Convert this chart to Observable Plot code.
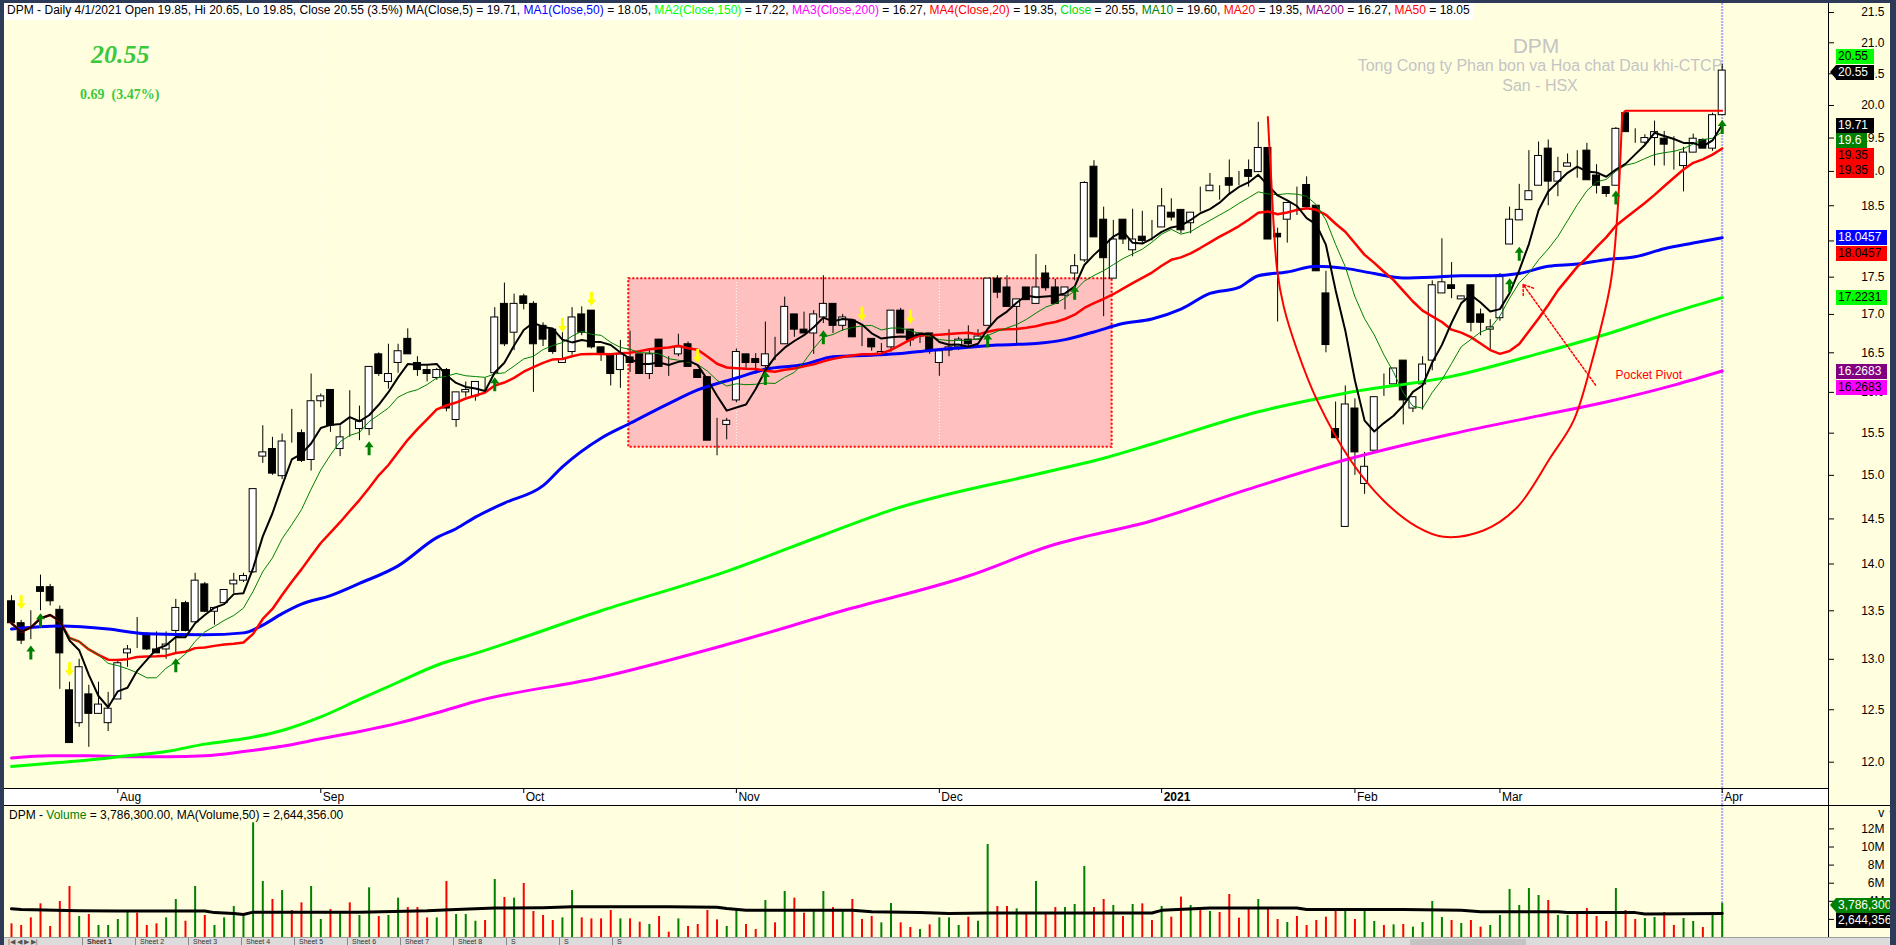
<!DOCTYPE html>
<html><head><meta charset="utf-8">
<script src="https://cdn.jsdelivr.net/npm/d3@7"></script>
<script src="https://cdn.jsdelivr.net/npm/@observablehq/plot@0.6"></script>
<style>
html,body{margin:0;padding:0}
body{background:#2E3B58;width:1896px;height:945px;overflow:hidden;font-family:"Liberation Sans",Arial,sans-serif}
#root{position:relative;width:1896px;height:945px;overflow:hidden}
#root>*{position:absolute}
.lbl{font:12px "Liberation Sans",Arial,sans-serif;height:15px;line-height:15px;padding:0 6px 0 2px;white-space:nowrap}
</style></head><body><div id="root"></div><script>
// ---------------- DATA ----------------
const months = ["Aug","Sep","Oct","Nov","Dec","2021","Feb","Mar","Apr"];
const monthStart = [11,32,53,75,96,119,139,154,177];

const open = [13.60,13.37,13.42,13.75,13.75,13.51,12.69,12.37,12.65,12.46,
12.37,12.60,13.06,13.30,13.26,13.10,13.10,13.29,13.58,13.38,
13.78,13.49,13.58,13.78,13.82,13.91,15.22,15.31,14.99,15.40,
15.50,15.18,15.89,16.03,15.31,15.59,15.55,15.55,16.48,16.13,
16.37,16.68,16.37,16.28,16.18,16.28,15.66,16.00,15.95,16.13,
16.24,17.14,16.76,17.24,17.14,16.85,16.80,16.37,16.51,17.00,
17.05,16.57,16.48,16.28,16.44,16.48,16.23,16.67,16.32,16.48,
16.61,16.28,16.19,15.31,15.60,15.90,16.48,16.42,16.33,16.51,
16.61,17.00,16.80,16.75,16.96,17.14,16.85,16.92,16.68,16.68,
16.48,16.57,17.05,16.80,16.71,16.75,16.37,16.53,16.57,16.67,
16.67,16.85,17.48,17.36,17.10,17.36,17.14,17.55,17.36,17.25,
17.55,17.73,19.07,18.30,17.48,18.30,17.87,18.06,18.11,18.19,
18.40,18.44,18.25,18.59,18.71,18.79,18.90,18.90,19.02,18.99,
19.35,18.10,18.30,18.52,18.80,18.50,17.28,15.55,14.41,15.80,
14.90,15.29,15.95,16.10,16.40,15.80,16.10,16.40,17.28,17.39,
17.20,17.39,17.00,16.80,16.95,17.95,18.29,18.58,18.79,19.34,
18.85,19.07,19.16,19.31,18.94,18.77,18.79,19.88,19.58,19.43,
19.50,19.49,19.36,19.08,19.28,19.47,19.34,19.85];
const high = [13.66,13.40,13.50,13.88,13.78,13.55,12.77,13.00,12.74,12.77,
12.67,13.00,13.14,13.43,13.27,13.28,13.28,13.62,13.60,13.90,
13.80,13.53,13.72,13.90,13.90,14.84,15.59,15.45,15.49,15.79,
15.54,16.23,15.98,16.03,15.59,16.02,15.83,16.32,16.50,16.61,
16.61,16.81,16.45,16.33,16.30,16.30,16.00,16.13,16.13,16.18,
17.09,17.42,17.27,17.27,17.17,16.89,16.80,16.76,17.09,17.10,
17.05,16.57,16.48,16.66,16.78,16.48,16.55,16.67,16.45,16.74,
16.64,16.28,16.19,15.68,15.68,16.55,16.48,16.49,16.90,16.70,
17.23,17.00,17.03,17.05,17.52,17.14,17.00,16.92,16.85,16.68,
16.62,17.05,17.08,16.80,16.75,16.75,16.55,16.80,16.70,16.85,
16.80,17.48,17.52,17.52,17.20,17.36,17.81,17.66,17.47,17.36,
17.81,18.85,19.16,18.48,18.29,18.30,18.45,18.42,18.29,18.75,
18.60,18.44,18.40,18.77,18.97,18.79,19.17,19.00,19.17,19.74,
19.35,18.18,18.54,18.77,18.92,18.50,17.58,15.88,16.08,15.92,
15.27,15.94,16.23,16.30,16.40,15.94,16.45,17.45,18.03,17.70,
17.24,17.39,17.07,16.93,17.55,18.48,18.81,19.31,19.44,19.47,
19.21,19.26,19.31,19.42,19.10,18.77,19.66,19.90,19.64,19.55,
19.76,19.60,19.52,19.36,19.56,19.49,19.88,20.65];
const low = [13.35,13.15,13.20,13.50,13.55,12.70,12.18,12.33,12.14,12.46,
12.29,12.60,12.92,13.11,13.09,13.06,13.00,13.06,13.28,13.38,
13.48,13.35,13.58,13.68,13.80,13.90,15.14,15.00,14.95,15.38,
15.15,15.05,15.81,15.51,15.22,15.45,15.41,15.47,16.20,16.04,
16.24,16.48,16.20,16.13,16.15,15.76,15.57,15.94,15.89,16.02,
16.24,16.58,16.53,17.06,16.00,16.58,16.48,16.37,16.47,16.72,
16.55,16.39,16.08,16.05,16.25,16.23,16.16,16.32,16.20,16.45,
16.32,16.18,15.41,15.23,15.42,15.87,16.30,16.23,16.25,16.40,
16.61,16.70,16.75,16.48,16.88,16.75,16.78,16.70,16.58,16.52,
16.45,16.51,16.75,16.58,16.62,16.48,16.20,16.45,16.53,16.58,
16.67,16.85,17.21,17.10,16.59,17.19,17.14,17.31,17.14,17.06,
17.45,17.70,18.05,16.97,17.48,17.95,17.78,17.96,18.00,18.19,
18.28,18.10,18.10,18.41,18.71,18.58,18.65,18.79,18.77,18.99,
18.02,16.90,17.97,18.36,18.48,17.58,16.50,15.44,14.41,15.00,
14.78,15.29,15.95,16.10,15.60,15.75,15.78,16.27,17.28,17.21,
17.20,16.77,16.72,16.54,16.91,17.95,18.29,18.58,18.79,18.50,
18.63,19.07,18.90,18.87,18.67,18.62,18.79,19.59,19.42,19.40,
19.08,19.08,19.02,18.70,19.28,19.34,19.30,19.85];
const close = [13.37,13.19,13.42,13.70,13.60,13.06,12.18,12.92,12.46,12.55,
12.51,12.96,13.10,13.30,13.10,13.06,13.15,13.53,13.29,13.82,
13.49,13.53,13.72,13.82,13.87,14.84,15.27,15.02,15.40,15.40,
15.17,15.89,15.95,15.59,15.45,15.59,15.64,16.32,16.23,16.23,
16.52,16.48,16.28,16.23,16.28,15.80,16.00,16.03,16.13,16.13,
16.96,16.61,17.14,17.14,16.61,16.67,16.51,16.42,16.96,16.76,
16.57,16.48,16.23,16.48,16.37,16.23,16.48,16.32,16.32,16.57,
16.32,16.18,15.41,15.31,15.65,16.51,16.37,16.37,16.48,16.51,
17.10,16.80,16.75,17.00,17.14,16.85,16.96,16.70,16.68,16.57,
16.51,17.05,16.75,16.66,16.75,16.52,16.52,16.57,16.67,16.61,
16.71,17.48,17.29,17.10,17.20,17.19,17.36,17.35,17.14,17.36,
17.65,18.83,18.05,17.76,18.02,18.02,18.02,18.00,18.11,18.49,
18.33,18.15,18.40,18.59,18.79,18.79,18.79,18.90,18.92,19.35,
18.02,18.05,18.54,18.52,18.48,17.58,16.60,15.44,15.85,15.27,
15.10,15.94,15.95,16.30,15.90,15.94,16.35,17.39,17.43,17.34,
17.24,16.89,16.89,16.83,17.50,18.30,18.44,18.71,19.23,18.85,
18.99,19.12,19.16,18.87,18.79,18.67,19.64,19.59,19.58,19.50,
19.59,19.40,19.36,19.28,19.49,19.34,19.85,20.55];
// volume in millions of shares
const volume = [1.51,1.33,2.17,3.72,1.22,3.98,5.64,2.32,2.54,1.33,
1.33,1.99,2.98,2.69,1.33,1.51,2.17,4.20,1.80,5.64,
2.43,1.33,2.17,3.43,2.32,12.67,6.19,4.20,5.19,2.98,
3.83,5.64,1.99,3.09,2.69,3.83,2.43,5.49,2.32,2.43,
4.35,3.31,3.31,2.17,2.17,6.19,2.54,2.54,1.80,1.88,
6.41,4.42,4.35,5.97,2.87,2.43,1.88,2.17,5.19,2.17,
2.06,2.06,2.98,2.06,2.06,1.69,1.44,2.32,0.59,2.06,
1.22,1.44,2.98,1.95,1.22,2.98,1.44,0.88,4.09,1.62,
5.08,4.35,2.69,2.87,5.08,3.31,2.87,4.20,1.99,2.32,
1.62,3.76,1.62,1.10,0.88,1.40,2.17,2.17,1.33,2.25,
1.80,10.28,3.43,3.43,3.17,2.69,6.19,2.69,3.31,3.31,
3.65,7.85,3.31,4.20,3.54,2.32,3.65,3.72,1.88,3.43,
2.25,4.46,3.54,3.31,2.87,2.76,4.75,2.14,3.13,4.20,
3.24,1.99,1.66,2.32,1.33,1.88,2.25,3.09,3.06,1.99,
3.09,1.77,1.33,1.40,1.44,1.14,1.66,3.98,2.21,1.88,
1.55,1.88,1.14,1.33,2.43,5.30,3.54,5.41,4.64,4.09,
2.43,2.43,2.54,3.20,2.32,1.77,5.41,2.98,1.99,2.10,
2.21,2.76,1.33,2.10,1.77,1.10,2.76,3.7863];
// long moving averages: [bar index, value]
const ma50 = [[0,13.31],[5,13.34],[10,13.31],[14,13.26],[20,13.25],[24,13.27],[26,13.35],[28,13.47],[30,13.57],[33,13.66],[36,13.79],[40,13.98],[44,14.29],[46,14.39],[48,14.52],[51,14.68],[55,14.88],[57,15.10],[61,15.44],[64,15.62],[68,15.86],[71,16.03],[75,16.18],[78,16.29],[82,16.35],[85,16.45],[89,16.47],[92,16.49],[95,16.53],[99,16.57],[102,16.60],[106,16.62],[109,16.67],[112,16.77],[115,16.88],[118,16.94],[121,17.07],[124,17.28],[127,17.36],[129,17.52],[132,17.57],[135,17.65],[138,17.62],[141,17.55],[144,17.49],[147,17.50],[150,17.52],[153,17.52],[156,17.55],[159,17.65],[162,17.68],[165,17.74],[168,17.78],[171,17.89],[174,17.97],[177,18.0457]];
const ma150 = [[0,11.96],[4,11.99],[8,12.02],[12,12.06],[16,12.10],[20,12.17],[24,12.22],[28,12.30],[32,12.43],[36,12.60],[40,12.77],[44,12.94],[48,13.06],[61,13.50],[74,13.92],[84,14.32],[91,14.60],[107.5,15.05],[113,15.20],[118,15.37],[129,15.76],[138,15.99],[149,16.20],[158,16.49],[165,16.74],[172,17.03],[177,17.2231]];
const ma200 = [[0,12.04],[4,12.06],[8,12.06],[12,12.05],[16,12.05],[20,12.06],[24,12.10],[28,12.15],[32,12.22],[36,12.29],[40,12.37],[44,12.47],[48,12.58],[61,12.82],[74,13.15],[86,13.50],[99,13.87],[107.5,14.20],[118,14.48],[128,14.84],[137,15.15],[149,15.49],[158,15.71],[165,15.88],[172,16.09],[177,16.2683]];
const volMA50 = [[0,3.17],[1,3.10],[7,2.95],[11,2.92],[20,2.92],[21,2.75],[23,2.65],[24,2.55],[25,2.80],[36,2.80],[43,2.95],[46,3.10],[50,3.25],[55,3.30],[58,3.40],[68,3.40],[73,3.35],[74,3.20],[76,3.00],[87,3.00],[89,2.85],[94,2.75],[97,2.65],[101,2.70],[118,2.70],[119,3.00],[124,3.25],[133,3.25],[134,3.10],[144,3.10],[150,3.00],[152,2.85],[160,2.85],[161,2.75],[168,2.75],[169,2.60],[177,2.644356]];
// signal arrows: [bar index, price]
const buyArrows = [[2,13.07],[3,13.40],[17,12.94],[37,15.32],[50,16.10],[78,16.18],[84,16.70],[101,16.66],[110,17.29],[155,17.39],[156,17.82],[166,18.62],[177,19.67]];
const sellArrows = [[1,13.59],[6,12.90],[57,16.86],[60,17.21],[71,16.46],[88,17.01],[93,16.97]];
// drawn annotations (bar index / price)
const zone = [{i1:63.87, i2:113.88, p1:15.33, p2:17.48}];
const cupArc = [[129.99,19.82],[130.27,19.06],[130.95,17.60],[131.64,17.10],[133.03,16.53],[135.09,15.90],[138.53,15.18],[141.95,14.71],[145.43,14.41],[148.15,14.30],[152.29,14.37],[155.77,14.63],[159.23,15.21],[161.61,15.65],[163.37,16.32],[165.44,17.41],[166.13,18.33],[166.65,19.87]];
const pivotLine = [[166.65,19.87],[167.0,19.92],[177.0,19.92]];
const pocketArrow = [{i1:163.9, p1:16.09, i2:156.4, p2:17.40}];
const pocketText = [{i:165.96, p:16.22, text:"Pocket Pivot"}];
const priceTicks = [12,12.5,13,13.5,14,14.5,15,15.5,16,16.5,17,17.5,18,18.5,19,19.5,20,20.5,21,21.5];
const volTicks = [2,4,6,8,10,12];
const tagValues = ["20.55","20.55","19.71","19.6","19.35","19.35","18.0457","18.0457","17.2231","16.2683","16.2683"];
const tagBg = ["#00FF00","#000000","#000000","#008000","#FF0000","#FF0000","#0000FF","#FF0000","#00FF00","#800080","#FF00FF"];
const tagFg = ["#000","#fff","#fff","#fff","#000","#000","#fff","#000","#000","#fff","#000"];
const volTagValues = ["3,786,300","2,644,356"];
const volTagBg = ["#008000","#000000"];
const sheetTabs = ["Sheet 1","Sheet 2","Sheet 3","Sheet 4","Sheet 5","Sheet 6","Sheet 7","Sheet 8","S","S","S"];

// --------------- LAYOUT ---------------
const root = document.getElementById("root");
function add(html){ const t=document.createElement("div"); t.innerHTML=html.trim(); const el=t.firstChild; root.appendChild(el); return el; }
function place(el,l,t){ el.style.position="absolute"; el.style.left=l+"px"; el.style.top=t+"px"; root.appendChild(el); return el; }

const N = close.length;
const bars = d3.range(N).map(i => ({i, o:open[i], h:high[i], l:low[i], c:close[i], v:volume[i]}));
const sma = k => close.map((_, i) => d3.mean(close.slice(Math.max(0, i - k + 1), i + 1)));
const ma5 = sma(5), ma10 = sma(10), ma20 = sma(20);
const up = d => d.c > d.o;

const W = 1896, AXIS = 1828;
const X0 = -11 / 9.665, X1 = (AXIS - 11) / 9.665;
const xOpt = {domain:[X0, X1], axis:null};
const font = "Liberation Sans, Arial, sans-serif";
const baseStyle = {background:"transparent", fontFamily:font, fontSize:"12px", color:"#000", overflow:"visible"};
const cursor = "#A8A8F4";

add(`<div style="left:4px;top:3px;width:1886px;height:934px;background:#FFFFE0"></div>`);
add(`<div style="left:4px;top:788px;width:1824px;height:17px;background:#FFFFFF"></div>`);

const arrowUp = {draw(ctx, size){ const k = Math.sqrt(size/Math.PI)/7;
  ctx.moveTo(0,-7*k); ctx.lineTo(4.5*k,-1*k); ctx.lineTo(1.5*k,-1*k); ctx.lineTo(1.5*k,7*k);
  ctx.lineTo(-1.5*k,7*k); ctx.lineTo(-1.5*k,-1*k); ctx.lineTo(-4.5*k,-1*k); ctx.closePath(); }};
const arrowDown = {draw(ctx, size){ const k = Math.sqrt(size/Math.PI)/7;
  ctx.moveTo(0,7*k); ctx.lineTo(4.5*k,1*k); ctx.lineTo(1.5*k,1*k); ctx.lineTo(1.5*k,-7*k);
  ctx.lineTo(-1.5*k,-7*k); ctx.lineTo(-1.5*k,1*k); ctx.lineTo(-4.5*k,1*k); ctx.closePath(); }};

const priceSvg = Plot.plot({
  width:W, height:788, marginLeft:0, marginRight:W-AXIS, marginTop:0, marginBottom:0,
  style:baseStyle,
  x:xOpt,
  y:{type:"log", domain:[11.757, 21.702]},
  marks:[
    Plot.rect(zone, {x1:"i1", x2:"i2", y1:"p1", y2:"p2", fill:"#FFC0C0"}),
    Plot.ruleX(monthStart, {stroke:"#FFFFFF", strokeDasharray:"1,2"}),
    Plot.rect(zone, {x1:"i1", x2:"i2", y1:"p1", y2:"p2", fill:"none", stroke:"#FF0000", strokeWidth:2, strokeDasharray:"2,2"}),
    Plot.ruleX([N-1], {stroke:cursor, strokeWidth:2, strokeDasharray:"2,1"}),
    Plot.ruleX(bars, {x:"i", y1:"l", y2:"h", stroke:"#000", strokeWidth:1}),
    Plot.rect(bars, {x1:d=>d.i-0.36, x2:d=>d.i+0.36, y1:"o", y2:"c", fill:d=>up(d)?"#FFFFFF":"#000000", stroke:"#000", strokeWidth:1}),
    Plot.line(ma200, {x:d=>d[0], y:d=>d[1], stroke:"#FF00FF", strokeWidth:3, curve:"monotone-x"}),
    Plot.line(ma150, {x:d=>d[0], y:d=>d[1], stroke:"#00FF00", strokeWidth:3, curve:"monotone-x"}),
    Plot.line(ma50, {x:d=>d[0], y:d=>d[1], stroke:"#0000FF", strokeWidth:3, curve:"monotone-x"}),
    Plot.line(bars, {x:"i", y:d=>ma20[d.i], stroke:"#FF0000", strokeWidth:2.5}),
    Plot.line(bars, {x:"i", y:d=>ma10[d.i], stroke:"#008000", strokeWidth:1}),
    Plot.line(bars, {x:"i", y:d=>ma5[d.i], stroke:"#000000", strokeWidth:2}),
    Plot.line(cupArc, {x:d=>d[0], y:d=>d[1], stroke:"#FF0000", strokeWidth:2, curve:"catmull-rom"}),
    Plot.line(pivotLine, {x:d=>d[0], y:d=>d[1], stroke:"#FF0000", strokeWidth:2}),
    Plot.arrow(pocketArrow, {x1:"i1", y1:"p1", x2:"i2", y2:"p2", stroke:"#FF0000", strokeWidth:1.5, strokeDasharray:"2,2", headLength:11, headAngle:70}),
    Plot.text(pocketText, {x:"i", y:"p", text:"text", textAnchor:"start", fill:"#FF0000", fontSize:12}),
    Plot.dot(buyArrows, {x:d=>d[0], y:d=>d[1], symbol:arrowUp, r:7, fill:"#008000"}),
    Plot.dot(sellArrows, {x:d=>d[0], y:d=>d[1], symbol:arrowDown, r:7, fill:"#FFFF00"}),
    Plot.axisY({anchor:"right", ticks:priceTicks, tickFormat:d=>d.toFixed(1), tickSize:5, tickPadding:51, textAnchor:"end", fontSize:12})
  ]
});
place(priceSvg, 0, 0);

const monthTicks = monthStart.map((i, k) => ({i, label:months[k]}));
const dateSvg = Plot.plot({
  width:W, height:17, marginLeft:0, marginRight:W-AXIS, marginTop:0, marginBottom:0,
  style:baseStyle, x:xOpt,
  marks:[
    Plot.ruleX([N-1], {stroke:cursor, strokeWidth:2, strokeDasharray:"2,1"}),
    Plot.ruleX(monthTicks, {x:"i", insetBottom:12, stroke:"#000"}),
    Plot.text(monthTicks.filter(d=>d.label!=="2021"), {x:"i", text:"label", frameAnchor:"middle", textAnchor:"start", dx:2, fontSize:12}),
    Plot.text(monthTicks.filter(d=>d.label==="2021"), {x:"i", text:"label", frameAnchor:"middle", textAnchor:"start", dx:2, fontSize:12, fontWeight:"bold"})
  ]
});
place(dateSvg, 0, 788);

const volSvg = Plot.plot({
  width:W, height:132, marginLeft:0, marginRight:W-AXIS, marginTop:0, marginBottom:0,
  style:baseStyle, x:xOpt,
  y:{domain:[0, 132/9.05]},
  marks:[
    Plot.ruleX(monthStart, {stroke:"#FFFFFF", strokeDasharray:"1,2"}),
    Plot.ruleX([N-1], {stroke:cursor, strokeWidth:2, strokeDasharray:"2,1"}),
    Plot.ruleX(bars, {x:"i", y1:0, y2:"v", stroke:d=>up(d)?"#008000":"#FF0000", strokeWidth:2}),
    Plot.line(volMA50, {x:d=>d[0], y:d=>d[1], stroke:"#000", strokeWidth:3}),
    Plot.axisY({anchor:"right", ticks:volTicks, tickFormat:d=>d+"M", tickSize:5, tickPadding:51, textAnchor:"end", fontSize:12})
  ]
});
place(volSvg, 0, 805);

// lines & frame
add(`<div style="left:4px;top:788px;width:1824px;height:1px;background:#000"></div>`);
add(`<div style="left:4px;top:805px;width:1886px;height:1px;background:#000"></div>`);
add(`<div style="left:1828px;top:3px;width:1px;height:934px;background:#000"></div>`);
const tabs = add(`<div style="left:0;top:937px;width:1896px;height:8px;background:#DCDCDC;border-top:1px solid #A0A0A0;overflow:hidden;font:7px 'Liberation Sans',Arial,sans-serif;line-height:7px;white-space:nowrap"></div>`);
tabs.innerHTML = `<span style="position:absolute;left:8px;top:0;color:#555">|◀ ◀ ▶ ▶|</span>` +
  sheetTabs.map((s, k) => `<span style="position:absolute;left:${82 + k*53}px;top:0;${k===0?"font-weight:bold;":""}color:#333;border-left:1px solid #888;padding-left:4px">${s}</span>`).join("");
add(`<div style="left:1410px;top:939px;width:116px;height:6px;background:#C4C4C4"></div>`);

// header
add(`<div style="left:4px;top:3px;height:17px;line-height:17px;background:#fff;padding:0 3px;font:12px 'Liberation Sans',Arial,sans-serif;letter-spacing:0.02px;white-space:nowrap;color:#000">DPM - Daily 4/1/2021 Open 19.85, Hi 20.65, Lo 19.85, Close 20.55 (3.5%) MA(Close,5) = 19.71, <span style="color:#0000FF">MA1(Close,50)</span> = 18.05, <span style="color:#00FF00">MA2(Close,150)</span> = 17.22, <span style="color:#FF00FF">MA3(Close,200)</span> = 16.27, <span style="color:#FF0000">MA4(Close,20)</span> = 19.35, <span style="color:#00E000">Close</span> = 20.55, <span style="color:#008000">MA10</span> = 19.60, <span style="color:#FF0000">MA20</span> = 19.35, <span style="color:#800080">MA200</span> = 16.27, <span style="color:#FF0000">MA50</span> = 18.05</div>`);
add(`<div style="left:91px;top:40px;font:italic bold 26px 'Liberation Serif','Times New Roman',serif;color:#3CC83C">20.55</div>`);
add(`<div style="left:80px;top:87px;font:bold 14px 'Liberation Serif','Times New Roman',serif;color:#3CC83C;white-space:pre">0.69  (3.47%)</div>`);
add(`<div style="left:1336px;top:34px;width:400px;text-align:center;font:21px 'Liberation Sans',Arial,sans-serif;color:#C4C4C4">DPM</div>`);
add(`<div style="left:1240px;top:56px;width:600px;text-align:center;font:16px 'Liberation Sans',Arial,sans-serif;color:#C4C4C4;line-height:20px">Tong Cong ty Phan bon va Hoa chat Dau khi-CTCP<br>San - HSX</div>`);
add(`<div style="left:9px;top:808px;font:12px 'Liberation Sans',Arial,sans-serif;white-space:nowrap">DPM - <span style="color:#008000">Volume</span> = 3,786,300.00, MA(Volume,50) = 2,644,356.00</div>`);

// right-hand value tags
const tagTops = [49, 64.5, 117.5, 132.5, 147.5, 163, 230, 245.5, 290, 364, 379.5];
tagValues.forEach((v, k) => {
  add(`<div class="lbl" style="left:1836px;top:${tagTops[k]}px;background:${tagBg[k]};color:${tagFg[k]}">${v}</div>`);
});
add(`<div style="left:1830px;top:64.5px;width:0;height:0;border-top:7.5px solid transparent;border-bottom:7.5px solid transparent;border-right:6px solid #000"></div>`);
const volTagTops = [897.5, 913];
volTagValues.forEach((v, k) => {
  add(`<div class="lbl" style="left:1836px;top:${volTagTops[k]}px;background:${volTagBg[k]};color:#fff">${v}</div>`);
});
add(`<div style="left:1830px;top:897.5px;width:0;height:0;border-top:7.5px solid transparent;border-bottom:7.5px solid transparent;border-right:6px solid #008000"></div>`);
// frame borders
add(`<div style="left:0;top:0;width:1896px;height:3px;background:#2E3B58"></div>`);
add(`<div style="left:0;top:0;width:4px;height:945px;background:#2E3B58"></div>`);
add(`<div style="left:1890px;top:0;width:6px;height:945px;background:#2E3B58"></div>`);
</script></body></html>
